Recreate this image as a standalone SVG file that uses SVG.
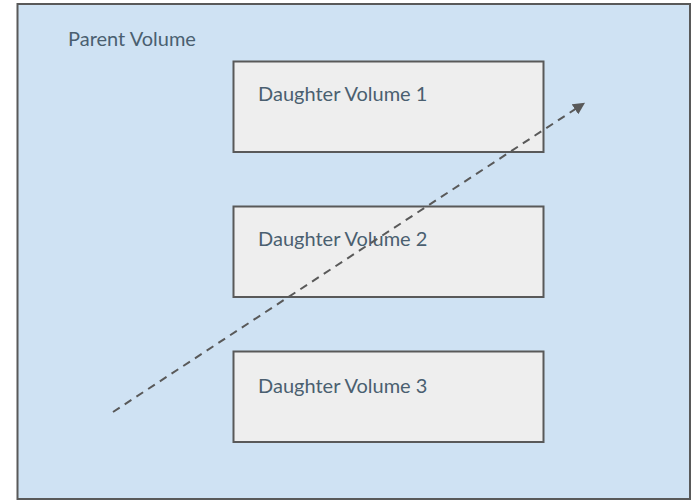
<svg xmlns="http://www.w3.org/2000/svg" width="695" height="500" viewBox="0 0 695 500">
<defs>
<style>
.box{stroke:#595959;stroke-width:2}
.parent{fill:#cfe2f3}
.daughter{fill:#eeeeee}
.lbl{font-family:Lato,"Liberation Sans",sans-serif;font-size:20px;fill:#4a5f70}
.conn{stroke:#595959;stroke-width:2;stroke-dasharray:8,6;fill:none}
</style>
<marker id="arr" markerWidth="12" markerHeight="12" refX="6" refY="6" orient="auto" markerUnits="userSpaceOnUse" viewBox="0 0 12 12">
<path d="M0,0 L12,6 L0,12 Z" fill="#595959"/>
</marker>
</defs>
<g id="parent">
<rect class="box parent" x="17.5" y="4" width="672.5" height="495"/>
<text class="lbl" x="68" y="46">Parent Volume</text>
</g>
<g id="daughter1">
<rect class="box daughter" x="233.5" y="61.5" width="310" height="90.5"/>
<text class="lbl" x="258" y="100.5">Daughter Volume 1</text>
</g>
<g id="daughter2">
<rect class="box daughter" x="233.5" y="206.5" width="310" height="90.5"/>
<text class="lbl" x="258" y="246">Daughter Volume 2</text>
</g>
<g id="daughter3">
<rect class="box daughter" x="233.5" y="351.5" width="310" height="90.5"/>
<text class="lbl" x="258" y="393">Daughter Volume 3</text>
</g>
<g id="connectors">
<path class="conn" d="M113,412 L580,106" marker-end="url(#arr)"/>
</g>
</svg>
